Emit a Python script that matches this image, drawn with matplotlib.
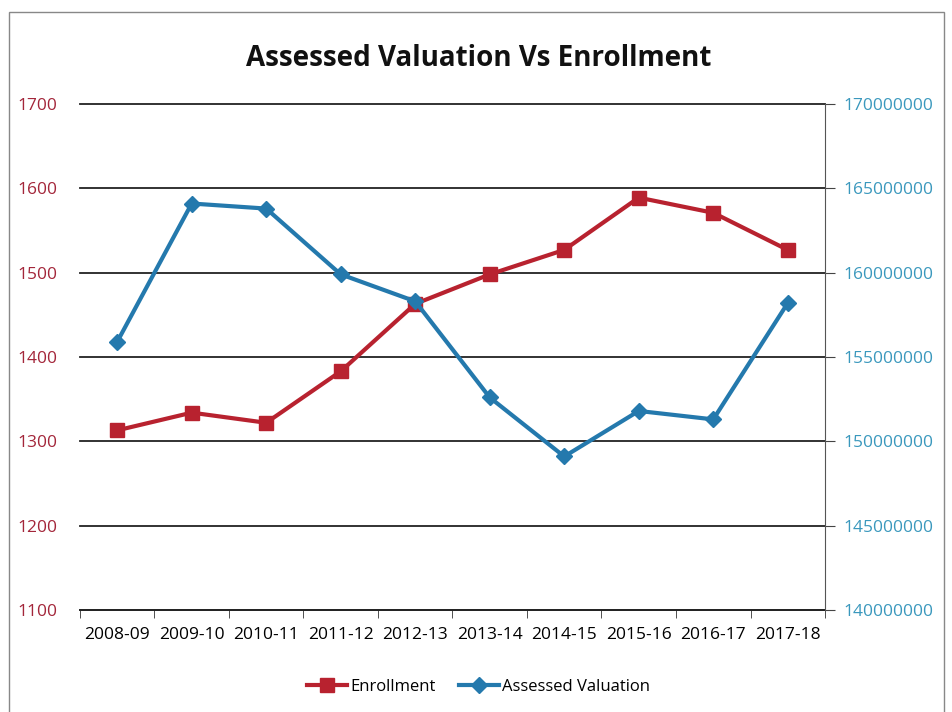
import matplotlib.pyplot as plt
import matplotlib.patches as patches
import numpy as np

years = ['2008-09', '2009-10', '2010-11', '2011-12', '2012-13',
         '2013-14', '2014-15', '2015-16', '2016-17', '2017-18']
enrollment = [1313, 1334, 1322, 1383, 1463, 1498, 1527, 1589, 1571, 1527]
valuation = [155900000, 164100000, 163800000, 159900000, 158300000,
             152600000, 149100000, 151800000, 151300000, 158200000]

plt.rcParams['font.family'] = ['Open Sans', 'DejaVu Sans']

red = '#b8222f'
blue = '#2479ad'

fig = plt.figure(figsize=(9.53, 7.12), dpi=100)
ax = fig.add_axes([0.0839, 0.1433, 0.7818, 0.7106])
ax2 = ax.twinx()

x = np.arange(len(years))
l1, = ax.plot(x, enrollment, color=red, lw=3, marker='s', ms=10, label='Enrollment', zorder=3)
l2, = ax2.plot(x, valuation, color=blue, lw=3, marker='D', ms=8, label='Assessed Valuation', zorder=3)

ax.set_xlim(-0.5, 9.5)
ax.set_ylim(1100, 1700)
ax.set_yticks(range(1100, 1701, 100))
ax2.set_ylim(140000000, 170000000)
ax2.set_yticks(range(140000000, 170000001, 5000000))
ax2.set_yticklabels([str(v) for v in range(140000000, 170000001, 5000000)])

ax.yaxis.grid(True, color='#222222', lw=1.3)
for gl in ax.yaxis.get_gridlines():
    gl.set_clip_on(False)
ax.set_axisbelow(True)

ax.set_xticks(x)
ax.set_xticklabels(years, fontsize=12.5)
ax.set_xticks(np.arange(-0.5, 10, 1), minor=True)
ax.tick_params(axis='x', which='major', length=0, pad=12)
ax.tick_params(axis='x', which='minor', length=6, color='#333333', direction='out')

ax.tick_params(axis='y', length=0, labelcolor='#a3263a', labelsize=12.5, pad=16)
ax2.tick_params(axis='y', length=7, color='#444444', labelcolor='#3a98bd', labelsize=12.5, pad=6)

for a in (ax, ax2):
    a.spines['top'].set_visible(False)
    a.spines['left'].set_visible(False)
ax.spines['right'].set_visible(False)
ax2.spines['bottom'].set_visible(False)
ax2.spines['right'].set_color('#555555')
ax.spines['bottom'].set_color('#222222')
ax.spines['bottom'].set_linewidth(1.3)

fig.text(0.502, 0.918, 'Assessed Valuation Vs Enrollment', ha='center', va='center',
         fontsize=20, fontweight='bold', color='#111111')

fig.legend(handles=[l1, l2], loc='center', bbox_to_anchor=(0.502, 0.035), ncol=2,
           frameon=False, fontsize=12, handlelength=2.4, columnspacing=1.4, handletextpad=0.2)

fig.patches.append(patches.Rectangle((0.009, -0.01), 0.982, 0.993, transform=fig.transFigure,
                                     fill=False, edgecolor='#888888', lw=1))

fig.savefig('out.png', dpi=100)
